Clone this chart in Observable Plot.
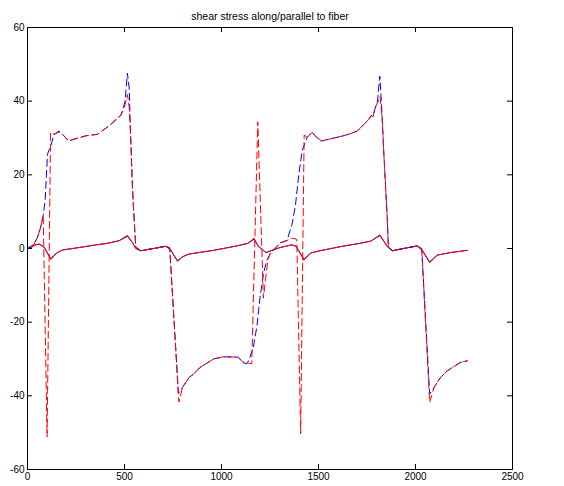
<!DOCTYPE html>
<html><head><meta charset="utf-8">
<script src="https://cdn.jsdelivr.net/npm/d3@7"></script>
<script src="https://cdn.jsdelivr.net/npm/@observablehq/plot@0.6"></script>
<style>body{margin:0;background:#fff}</style>
</head><body><div id="chart"></div>
<script>
const title = "shear stress along/parallel to fiber";
const xTicks = [0, 500, 1000, 1500, 2000, 2500];
const yTicks = [-60, -40, -20, 0, 20, 40, 60];

// small (solid) curves
const xSolid = [0,22,61,85,120,151,181,271,343,411,472,515,541,558,584,649,713,738,773,801,833,884,959,1079,1136,1167,1190,1229,1298,1362,1385,1425,1461,1508,1623,1714,1769,1817,1855,1881,1948,2009,2035,2073,2112,2181,2267];
const ySolidBlue = [0,0.8,1.2,0.4,-2.7,-1.2,-0.4,0.3,0.9,1.4,2.1,3.3,1.6,0,-0.6,0,0.6,-0.4,-3.3,-2.2,-1.5,-1.1,-0.5,0.7,1.4,2.5,0.6,-1.1,0.2,1.0,0.6,-2.9,-1.2,-0.6,0.6,1.4,2.0,3.5,0.5,-0.6,0.1,0.7,-0.5,-3.6,-1.8,-1.1,-0.5];
const ySolidRed  = [0,0.8,1.2,0.4,-3.0,-1.2,-0.4,0.3,0.9,1.4,2.1,3.6,1.6,0,-0.6,0,0.6,-0.4,-3.5,-2.2,-1.5,-1.1,-0.5,0.7,1.4,2.8,0.6,-1.1,0.2,1.0,0.6,-3.2,-1.2,-0.6,0.6,1.4,2.0,3.7,0.5,-0.6,0.1,0.7,-0.5,-3.9,-1.8,-1.1,-0.5];

// large (dashed) curves
const xDashBlue = [0,26,52,68,81,91,103,120,137,163,181,211,260,301,360,421,464,480,489,503,515,524,532,541,550,558,584,649,713,733,778,799,833,856,889,959,1009,1087,1109,1131,1142,1164,1182,1199,1216,1233,1251,1302,1338,1354,1364,1382,1399,1416,1442,1468,1482,1515,1565,1628,1660,1700,1734,1760,1772,1780,1795,1804,1816,1821,1829,1837,1846,1855,1860,1881,1948,2009,2032,2073,2096,2129,2164,2232,2267];
const yDashBlue = [0,0.4,3.1,5.8,9.0,13,25.6,27.9,31.0,31.9,31.0,29.2,30.0,30.6,31.0,33.3,35.5,36.1,37.3,40.0,47.6,43.6,30.1,16.6,7.6,0.4,-0.6,0,0.6,0.2,-39.3,-37.7,-35.0,-34.1,-32.3,-30.0,-29.4,-29.5,-31.0,-31.3,-30.2,-26.8,-21.3,-13.2,-6.9,-3.3,-1.4,1.5,2.2,5.0,6.6,12.1,20.3,26.6,30.2,31.6,30.6,29.2,29.8,30.6,31.1,31.9,33.7,35.1,36.2,35.7,38.7,40.0,46.8,42.7,34.6,25.6,16.6,7.6,0.4,-0.6,0.1,0.7,0.0,-39.5,-37.7,-35.0,-33.2,-30.9,-30.5];
const xDashRed = [0,26,52,68,81,101,119,137,163,181,211,260,301,360,421,464,480,489,503,515,524,532,541,550,558,584,649,713,733,780,799,833,856,889,959,1009,1087,1109,1131,1156,1187,1216,1239,1251,1302,1338,1363,1388,1408,1426,1442,1468,1482,1515,1565,1628,1660,1700,1734,1760,1772,1780,1795,1804,1817,1823,1829,1837,1846,1855,1860,1881,1948,2009,2032,2073,2096,2129,2164,2232,2267];
const yDashRed = [0,0.4,3.1,5.8,8.8,-51.2,31.5,31.0,31.6,31.0,29.2,30.0,30.6,31.0,33.3,35.3,36.0,37.0,39.0,41.8,38.5,30.1,16.6,7.6,0.4,-0.6,0,0.6,0.2,-41.7,-37.7,-35.0,-34.1,-32.3,-30.0,-29.4,-29.5,-30.8,-31.0,-31.3,34.4,-13.5,-3.0,-1.4,1.5,2.2,2.8,2.5,-50.3,30.8,30.2,31.6,30.6,29.2,29.8,30.6,31.1,31.9,33.7,35.1,36.2,35.7,38.5,39.5,41.2,38.0,34.6,25.6,16.6,7.6,0.4,-0.6,0.1,0.7,0.0,-41.8,-37.7,-35.0,-33.2,-30.9,-30.5];

const pts = (xs, ys) => xs.map((x, i) => ({x, y: ys[i]}));

const chart = Plot.plot({
  width: 564, height: 486,
  marginLeft: 27, marginRight: 52, marginTop: 27, marginBottom: 17,
  style: {fontFamily: "'Liberation Sans', Arial, Helvetica, sans-serif", fontSize: "10px", background: "white", color: "black"},
  x: {domain: [0, 2500], ticks: xTicks, tickFormat: d => String(d), tickSize: 0, tickPadding: 3, label: null},
  y: {domain: [-60, 60], ticks: yTicks, tickFormat: d => String(d), tickSize: 0, tickPadding: 3, label: null},
  marks: [
    Plot.line(pts(xSolid, ySolidBlue), {x: "x", y: "y", stroke: "#0000ff", strokeWidth: 1}),
    Plot.line(pts(xSolid, ySolidRed), {x: "x", y: "y", stroke: "#ff0000", strokeWidth: 1}),
    Plot.line(pts(xDashBlue, yDashBlue), {x: "x", y: "y", stroke: "#0000ff", strokeWidth: 1, strokeDasharray: "7,4"}),
    Plot.line(pts(xDashRed, yDashRed), {x: "x", y: "y", stroke: "#ff0000", strokeWidth: 1, strokeDasharray: "7,4", strokeDashoffset: 5}),
    Plot.frame({stroke: "black"}),
    Plot.tickX(xTicks.slice(1, -1), {x: d => d, insetTop: 437, stroke: "black"}),
    Plot.tickX(xTicks.slice(1, -1), {x: d => d, insetBottom: 437, stroke: "black"}),
    Plot.tickY(yTicks.slice(1, -1), {y: d => d, insetRight: 480, stroke: "black"}),
    Plot.tickY(yTicks.slice(1, -1), {y: d => d, insetLeft: 480, stroke: "black"}),
    Plot.text([title], {text: d => d, frameAnchor: "top", dy: -15, fontSize: 10.5})
  ]
});
document.getElementById("chart").appendChild(chart);
</script>
</body></html>
